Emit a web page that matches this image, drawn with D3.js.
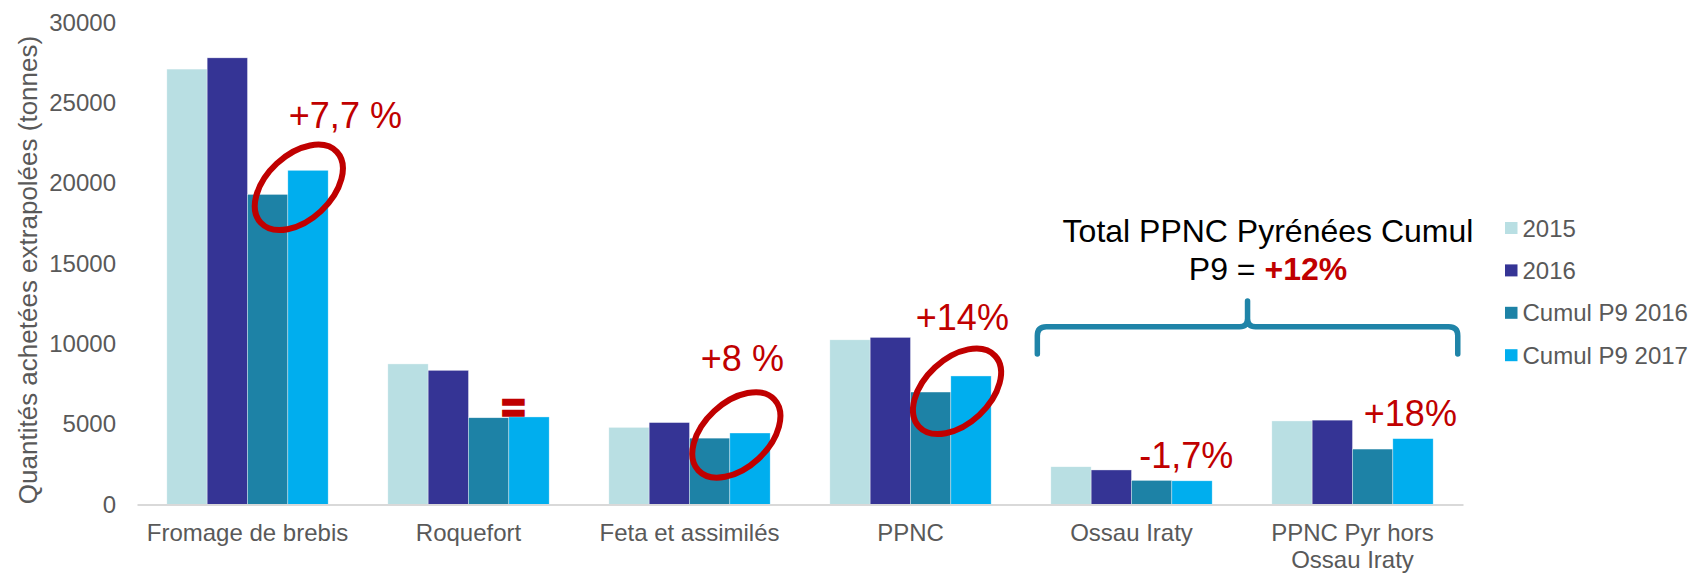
<!DOCTYPE html>
<html>
<head>
<meta charset="utf-8">
<script src="https://cdn.jsdelivr.net/npm/d3@7"></script>
<style>
  html, body { margin: 0; padding: 0; background: #fff; }
  svg { display: block; font-family: "Liberation Sans", Arial, sans-serif; }
</style>
</head>
<body>
<svg id="chart" width="1693" height="574"></svg>
<script>
// ---- Data ----
const categories = ["Fromage de brebis", "Roquefort", "Feta et assimilés", "PPNC", "Ossau Iraty", "PPNC Pyr hors\nOssau Iraty"];
const seriesNames = ["2015", "2016", "Cumul P9 2016", "Cumul P9 2017"];
const values2015 = [27100, 8750, 4800, 10250, 2350, 5200];
const values2016 = [27800, 8350, 5100, 10400, 2150, 5250];
const valuesCumul2016 = [19300, 5400, 4130, 7000, 1500, 3450];
const valuesCumul2017 = [20800, 5450, 4450, 8000, 1475, 4100];
const yTicks = [0, 5000, 10000, 15000, 20000, 25000, 30000];
const seriesColors = ["#B9DFE3", "#353495", "#1D82A6", "#00AEEE"];

const allSeries = [values2015, values2016, valuesCumul2016, valuesCumul2017];

// ---- Setup ----
const svg = d3.select("#chart");
const red = "#C00000";
const grey = "#595959";

const y = d3.scaleLinear().domain([0, 30000]).range([504.5, 22.5]);
const x0 = d3.scaleBand().domain(categories).range([137, 1463])
  .paddingInner(0.27).paddingOuter(0.135);
const x1 = d3.scaleBand().domain(seriesNames).range([0, x0.bandwidth()]);
const color = d3.scaleOrdinal().domain(seriesNames).range(seriesColors);

// ---- Y axis (labels only) ----
const yAxis = d3.axisLeft(y).tickValues(yTicks).tickSize(0).tickPadding(0).tickFormat(d3.format("d"));
const gy = svg.append("g").attr("transform", "translate(116,0)").call(yAxis);
gy.select(".domain").remove();
gy.selectAll("text").attr("fill", grey).style("font-size", "24px")
  .style("font-family", '"Liberation Sans", Arial, sans-serif');

// Y axis title
svg.append("text")
  .attr("transform", "translate(37,270) rotate(-90)")
  .attr("text-anchor", "middle")
  .attr("fill", grey)
  .style("font-size", "26px")
  .text("Quantités achetées extrapolées (tonnes)");

// ---- Bars ----
const barData = [];
categories.forEach((c, i) => {
  seriesNames.forEach((s, j) => barData.push({ cat: c, series: s, value: allSeries[j][i] }));
});
svg.append("g").selectAll("rect").data(barData).join("rect")
  .attr("x", d => x0(d.cat) + x1(d.series))
  .attr("y", d => y(d.value))
  .attr("width", x1.bandwidth())
  .attr("height", d => y(0) - y(d.value))
  .attr("fill", d => color(d.series))
  .attr("stroke", "#ffffff").attr("stroke-width", 0.6).attr("stroke-opacity", 0.6);

// ---- X axis ----
const xAxis = d3.axisBottom(x0).tickSize(0).tickPadding(0);
const gx = svg.append("g").attr("transform", `translate(0,${y(0)})`).call(xAxis);
gx.select(".domain").attr("stroke", "#D9D9D9").attr("stroke-width", 2);
gx.selectAll(".tick text").each(function(d) {
  const t = d3.select(this);
  const lines = d.split("\n");
  t.text(null).attr("y", 0).attr("dy", null)
    .attr("fill", grey).style("font-size", "24px")
    .style("font-family", '"Liberation Sans", Arial, sans-serif');
  lines.forEach((ln, k) => {
    t.append("tspan").attr("x", 0).attr("y", 36.5 + k * 27).text(ln);
  });
});

// ---- Legend ----
const legend = svg.append("g");
seriesNames.forEach((s, i) => {
  const cy = 228 + i * 42.4;
  legend.append("rect").attr("x", 1505).attr("y", cy - 6).attr("width", 12.5).attr("height", 12)
    .attr("fill", color(s));
  legend.append("text").attr("x", 1522.5).attr("y", cy + 8.5)
    .attr("fill", grey).style("font-size", "24px").text(s);
});

// ---- Annotations ----
const ann = svg.append("g");
function boundary(cat) { return x0(cat) + x1("Cumul P9 2017"); }
function ring(cat, dx, v) {
  ann.append("ellipse")
    .attr("transform", `translate(${boundary(cat) + dx},${y(v)}) rotate(-43)`)
    .attr("rx", 52).attr("ry", 32.5)
    .attr("fill", "none").attr("stroke", red).attr("stroke-width", 6);
}
function label(cat, dx, v, txt) {
  ann.append("text").attr("x", x0(cat) + dx).attr("y", y(v))
    .attr("fill", red).style("font-size", "36px").text(txt);
}
ring(categories[0], 11, 19740);
ring(categories[2], 6.5, 4330);
ring(categories[3], 6.2, 7045);

label(categories[0], 122, 23430, "+7,7 %");
label(categories[2], 92, 8330, "+8 %");
label(categories[3], 86, 10860, "+14%");
label(categories[4], 88.5, 2250, "-1,7%");
label(categories[5], 92, 4905, "+18%");

// "=" for Roquefort
ann.append("text").attr("x", boundary(categories[1]) + 4.5).attr("y", y(6000) + 13.5)
  .attr("text-anchor", "middle").attr("fill", red).attr("stroke", red).attr("stroke-width", 2.5)
  .style("font-size", "40px").style("font-weight", "bold").text("=");

// Bracket
const L = x0(categories[4]) - 13.5;
const R = x0(categories[5]) + x0.bandwidth() + 24.6;
const M = (L + R) / 2;
const hy = 326.7, by = 354, py = 301;
const bp = d3.path();
bp.moveTo(L, by); bp.lineTo(L, hy + 9);
bp.quadraticCurveTo(L, hy, L + 9, hy);
bp.lineTo(M - 8, hy);
bp.quadraticCurveTo(M, hy, M, hy - 8);
bp.lineTo(M, py);
bp.moveTo(M, hy - 8);
bp.quadraticCurveTo(M, hy, M + 8, hy);
bp.lineTo(R - 9, hy);
bp.quadraticCurveTo(R, hy, R, hy + 9);
bp.lineTo(R, by);
ann.append("path").attr("d", bp.toString()).attr("fill", "none")
  .attr("stroke", "#1F84A8").attr("stroke-width", 5.5).attr("stroke-linecap", "round");

// Bracket title
ann.append("text").attr("x", 1268).attr("y", 242).attr("text-anchor", "middle")
  .attr("fill", "#000").style("font-size", "32px").text("Total PPNC Pyrénées Cumul");
const t2 = ann.append("text").attr("x", 1268).attr("y", 280).attr("text-anchor", "middle")
  .attr("fill", "#000").style("font-size", "32px");
t2.append("tspan").text("P9 = ");
t2.append("tspan").attr("fill", red).style("font-weight", "bold").text("+12%");
</script>
</body>
</html>
